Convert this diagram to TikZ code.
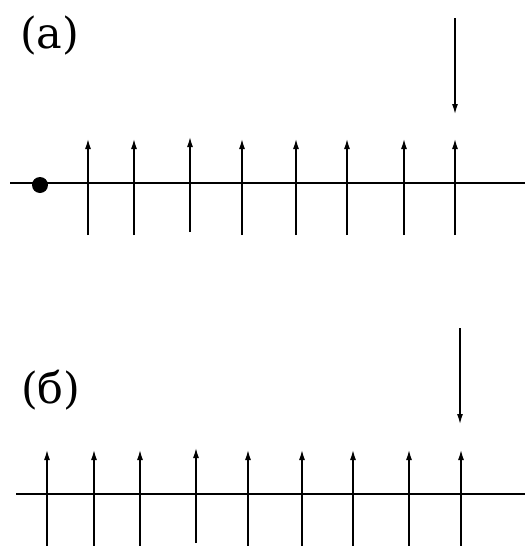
\documentclass[tikz,border=0pt]{standalone}
\usepackage{fontspec}
\newfontfamily\tnr{DejaVu Serif}
\usetikzlibrary{arrows.meta}
\begin{document}
\begin{tikzpicture}[x=1pt,y=-1pt,
  axis/.style={line width=1.3pt},
  spin/.style={line width=1.3pt,-{Latex[length=10pt,width=6pt]}},
  lab/.style={inner sep=0pt,anchor=base west,font=\tnr\fontsize{43}{48}\selectfont}]
\useasboundingbox (0,0) rectangle (525,546);
% (a)
\node[lab] (la) at (20,48) {(a)};
\draw[axis] (10,183) -- (525,183);
\fill (40,185) circle (8);
\foreach \x/\t/\b in {88/139/235,134/139/235,190/137/232,242/139/235,296/139/235,347/139/235,404/139/235,455/139/235}{
  \draw[spin] (\x,\b) -- (\x,\t);
}
\draw[spin] (455,18) -- (455,114);
% (б)
\node[lab] (lb) at (21,403) {(б)};
\draw[axis] (16,494) -- (525,494);
\foreach \x/\t/\b in {47/450/546,94/450/546,140/450/546,196/448/543,248/450/546,302/450/546,353/450/546,409/450/546,461/450/546}{
  \draw[spin] (\x,\b) -- (\x,\t);
}
\draw[spin] (460,328) -- (460,424);
\end{tikzpicture}
\end{document}
